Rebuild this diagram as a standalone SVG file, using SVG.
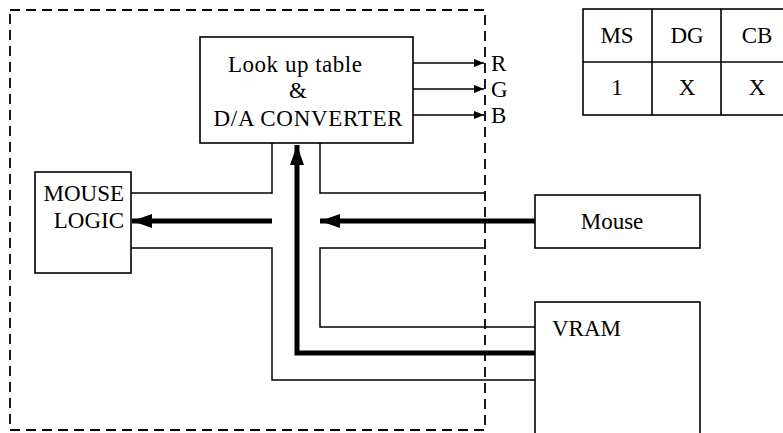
<svg xmlns="http://www.w3.org/2000/svg" width="783" height="433" viewBox="0 0 783 433">
<defs>
<marker id="sm" viewBox="0 0 10 8" refX="10" refY="4" markerWidth="10" markerHeight="8" markerUnits="userSpaceOnUse" orient="auto"><path d="M0,0 L10,4 L0,8 Z" fill="#000"/></marker>
<marker id="big" viewBox="0 0 20 14" refX="20" refY="7" markerWidth="20" markerHeight="14" markerUnits="userSpaceOnUse" orient="auto"><path d="M0,0 L20,7 L0,14 Z" fill="#000"/></marker>
</defs>
<style>
.box{fill:none;stroke:#000;stroke-width:1.6}
.ln{fill:none;stroke:#000;stroke-width:1.5}
.thk{fill:none;stroke:#000;stroke-width:5}
.dash{fill:none;stroke:#000;stroke-width:1.8;stroke-dasharray:10 6}
text{font-family:"Liberation Serif","DejaVu Serif",serif;font-size:23px;fill:#000}
</style>
<rect width="783" height="433" fill="#fff"/>
<rect class="dash" x="10" y="10" width="475" height="420"/>
<g id="lut">
<rect class="box" x="200" y="37" width="213" height="106"/>
<text x="295" y="72" text-anchor="middle" textLength="134">Look up table</text>
<text x="298" y="98" text-anchor="middle">&amp;</text>
<text x="308" y="126" text-anchor="middle" textLength="189">D/A CONVERTER</text>
</g>
<g id="mouselogic">
<rect class="box" x="35" y="172" width="96" height="101"/>
<text x="124" y="201" text-anchor="end">MOUSE</text>
<text x="124" y="228" text-anchor="end">LOGIC</text>
</g>
<g id="mouse">
<rect class="box" x="535" y="195" width="165" height="53"/>
<text x="612" y="229" text-anchor="middle">Mouse</text>
</g>
<g id="vram">
<rect class="box" x="535" y="302" width="165" height="140"/>
<text x="552" y="336">VRAM</text>
</g>
<g id="labels">
<text x="491" y="71">R</text>
<text x="491" y="97">G</text>
<text x="491" y="123">B</text>
</g>
<g id="table">
<rect class="box" x="583" y="9" width="210" height="106"/>
<line class="box" x1="583" y1="62" x2="783" y2="62"/>
<line class="box" x1="652" y1="9" x2="652" y2="115"/>
<line class="box" x1="721" y1="9" x2="721" y2="115"/>
<text x="617" y="43" text-anchor="middle">MS</text>
<text x="687" y="43" text-anchor="middle">DG</text>
<text x="757" y="43" text-anchor="middle">CB</text>
<text x="617" y="95" text-anchor="middle">1</text>
<text x="687" y="95" text-anchor="middle">X</text>
<text x="757" y="95" text-anchor="middle">X</text>
</g>
<g id="connectors">
<line class="ln" x1="413" y1="63" x2="484" y2="63" marker-end="url(#sm)"/>
<line class="ln" x1="413" y1="89" x2="484" y2="89" marker-end="url(#sm)"/>
<line class="ln" x1="413" y1="115" x2="484" y2="115" marker-end="url(#sm)"/>
<polyline class="ln" points="131,193 272,193 272,143"/>
<polyline class="ln" points="320,143 320,193 485,193"/>
<polyline class="ln" points="131,248 272,248 272,380 535,380"/>
<polyline class="ln" points="485,248 320,248 320,327 535,327"/>
<line class="thk" x1="272" y1="221" x2="132" y2="221" marker-end="url(#big)"/>
<line class="thk" x1="535" y1="221" x2="320" y2="221" marker-end="url(#big)"/>
<polyline class="thk" points="535,353 297,353 297,145" marker-end="url(#big)"/>
</g>
</svg>
